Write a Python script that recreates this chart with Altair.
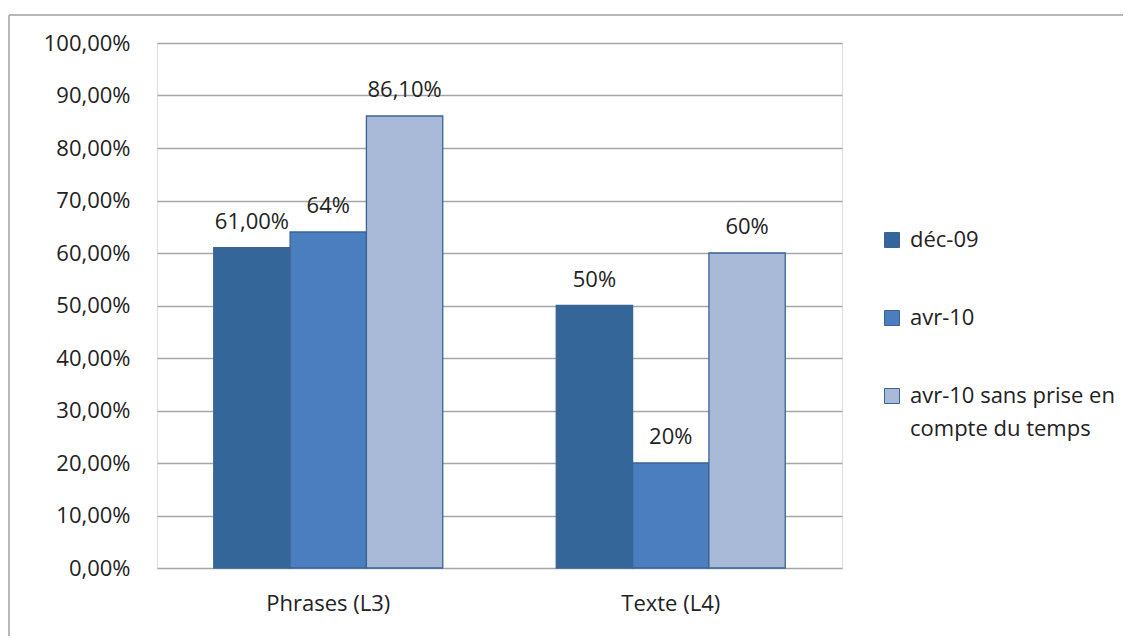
import altair as alt
import pandas as pd

categories = ["Phrases (L3)", "Phrases (L3)", "Phrases (L3)", "Texte (L4)", "Texte (L4)", "Texte (L4)"]
series = ["déc-09", "avr-10", "avr-10 sans prise en compte du temps"] * 2
values = [61.0, 64.0, 86.1, 50.0, 20.0, 60.0]
labels = ["61,00%", "64%", "86,10%", "50%", "20%", "60%"]

series_order = ["déc-09", "avr-10", "avr-10 sans prise en compte du temps"]
colors = ["#35669A", "#4A7EBF", "#A9BAD9"]
y_ticks = [0, 10, 20, 30, 40, 50, 60, 70, 80, 90, 100]

df = pd.DataFrame({"cat": categories, "serie": series, "val": values, "lab": labels})

FONT = "Open Sans"
FS = 22

base = alt.Chart(df)

bars = base.mark_bar(stroke="#3A6496", strokeWidth=1.3).encode(
    x=alt.X("cat:N", title=None,
            scale=alt.Scale(paddingInner=0.3314, paddingOuter=0.1657),
            axis=alt.Axis(labelAngle=0, labelFontSize=FS, labelFont=FONT, labelColor="#222222",
                          labelPadding=25, ticks=False, tickSize=0, domain=False, grid=False)),
    xOffset=alt.XOffset("serie:N", scale=alt.Scale(domain=series_order, paddingInner=0, paddingOuter=0)),
    y=alt.Y("val:Q", title=None,
            scale=alt.Scale(domain=[0, 100], nice=False),
            axis=alt.Axis(values=y_ticks, labelExpr="replace(format(datum.value, '.2f'), '.', ',') + '%'",
                          labelFontSize=FS, labelFont=FONT, labelColor="#222222", labelPadding=27,
                          ticks=False, tickSize=0, domain=False, grid=True, gridColor="#A6A6A6",
                          gridWidth=1.6)),
    color=alt.Color("serie:N", title=None,
                    scale=alt.Scale(domain=series_order, range=colors),
                    legend=alt.Legend(orient="none", legendX=724, legendY=186, symbolType="square",
                                      symbolSize=225, symbolStrokeColor="#3A6496", symbolStrokeWidth=1,
                                      labelFontSize=FS, labelFont=FONT, labelColor="#222222",
                                      labelOffset=7, rowPadding=56, labelLimit=400,
                                      labelExpr="datum.label == 'avr-10 sans prise en compte du temps' ? ['avr-10 sans prise en', 'compte du temps'] : datum.label")),
)

text = base.mark_text(baseline="alphabetic", dy=-19, fontSize=FS, font=FONT, color="#222222").encode(
    x=alt.X("cat:N"),
    xOffset=alt.XOffset("serie:N", scale=alt.Scale(domain=series_order)),
    y=alt.Y("val:Q"),
    text="lab:N",
)

one = alt.Data(values=[{}])
border_left = alt.Chart(one).mark_rule(color="#A0A0A0", strokeWidth=1.5).encode(
    x=alt.value(-148), y=alt.value(-28), y2=alt.value(600))
border_top = alt.Chart(one).mark_rule(color="#A0A0A0", strokeWidth=1.5).encode(
    x=alt.value(-148), x2=alt.value(980), y=alt.value(-28))

chart = alt.layer(bars, text, border_left, border_top).properties(
    width=685, height=525,
    autosize=alt.AutoSizeParams(type="none"),
    padding={"left": 149, "top": 35, "right": 281, "bottom": 68},
).configure_view(
    fill="#E9EEF6", stroke="#A0A0A0", strokeWidth=1.5
).configure(background="white", style={"guide-label": {"lineHeight": 33}})

chart.save("out.html", embed_options={"renderer": "svg", "actions": False})
